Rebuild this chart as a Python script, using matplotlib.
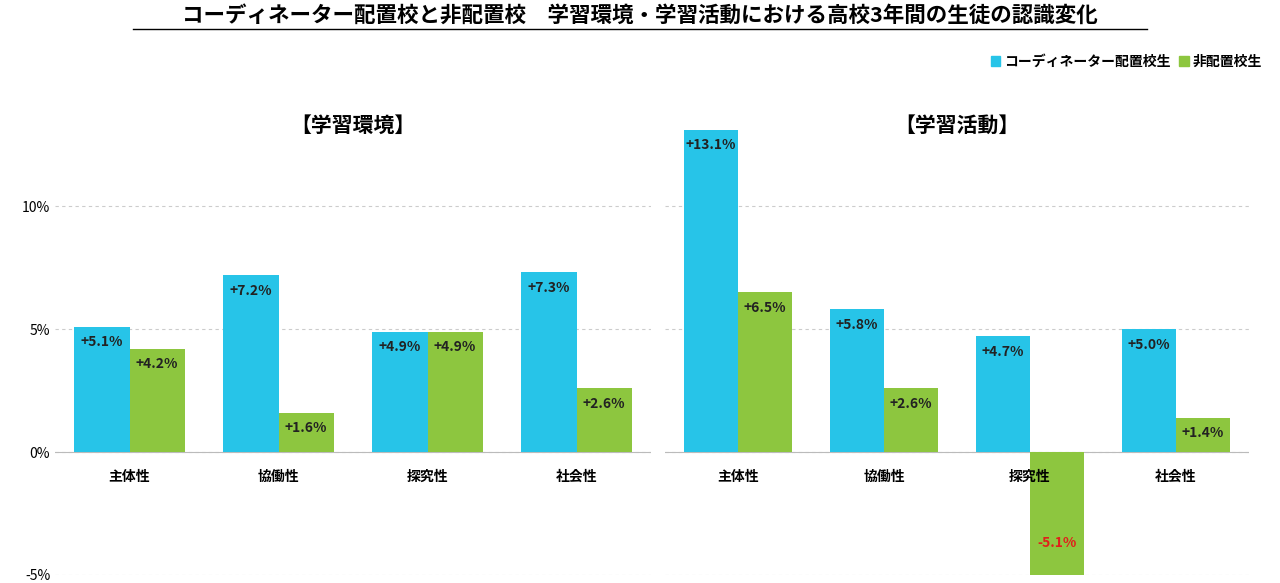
import matplotlib
matplotlib.use("Agg")
import matplotlib.pyplot as plt
from matplotlib.patches import Patch

plt.rcParams['font.family'] = ['Noto Sans CJK JP', 'DejaVu Sans']

categories = ["主体性", "協働性", "探究性", "社会性"]
env_coord = [5.1, 7.2, 4.9, 7.3]
env_non = [4.2, 1.6, 4.9, 2.6]
act_coord = [13.1, 5.8, 4.7, 5.0]
act_non = [6.5, 2.6, -5.1, 1.4]
yticks = [-5, 0, 5, 10]
ytick_labels = ["-5%", "0%", "5%", "10%"]

BLUE = "#27C4E8"
GREEN = "#8DC63F"
W, H = 1280, 583
fig = plt.figure(figsize=(W/100, H/100), dpi=100)

ylo, yhi = -5.0, 13.5
bot = (H-575)/H
top = (H-120)/H

def panel(x0, x1, coord, non, title, show_y):
    ax = fig.add_axes([x0/W, bot, (x1-x0)/W, top-bot])
    xs = range(len(categories))
    bw = 0.37
    for i in xs:
        for v, off, c in ((coord[i], -bw/2, BLUE), (non[i], bw/2, GREEN)):
            ax.bar(i+off, v, bw, color=c, zorder=3)
            if v >= 0:
                ax.text(i+off, v-0.35, f"+{v:.1f}%", ha="center", va="top", fontsize=10,
                        fontweight="bold", color="#222222", zorder=4)
            else:
                ax.text(i+off, v+1.1, f"{v:.1f}%", ha="center", va="bottom", fontsize=10,
                        fontweight="bold", color="#E0201B", zorder=4)
        ax.annotate(categories[i], (i, 0), xytext=(0, -18), textcoords="offset points",
                    ha="center", va="center", fontsize=10, fontweight="bold", zorder=5)
    ax.set_xlim(-0.5, 3.5)
    ax.set_ylim(ylo, yhi)
    ax.set_yticks(yticks)
    ax.set_yticklabels(ytick_labels if show_y else [], fontsize=10)
    ax.tick_params(length=0)
    ax.set_xticks([])
    ax.grid(axis="y", color="#cccccc", linestyle=(0, (3, 3)), linewidth=0.8, zorder=0)
    ax.axhline(0, color="#bbbbbb", linewidth=0.8, zorder=2)
    for s in ax.spines.values():
        s.set_visible(False)
    ax.text(1.5, 13.3, title, ha="center", va="center", fontsize=15, fontweight="bold")
    return ax

panel(55, 651, env_coord, env_non, "【学習環境】", True)
panel(665, 1249, act_coord, act_non, "【学習活動】", False)

fig.text(0.5, 1-15/H, "コーディネーター配置校と非配置校　学習環境・学習活動における高校3年間の生徒の認識変化",
         ha="center", va="center", fontsize=15.5, fontweight="bold")
fig.add_artist(plt.Line2D([133/W, 1147/W], [1-29/H, 1-29/H], color="black", linewidth=1))

fig.legend(handles=[Patch(color=BLUE, label="コーディネーター配置校生"),
                    Patch(color=GREEN, label="非配置校生")],
           loc="center right", bbox_to_anchor=(1275/W, 1-62/H), ncol=2, frameon=False,
           handlelength=0.7, handleheight=0.7, handletextpad=0.3, columnspacing=0.6,
           prop={'weight': 'bold', 'size': 10})

fig.savefig("out.png", dpi=100)
